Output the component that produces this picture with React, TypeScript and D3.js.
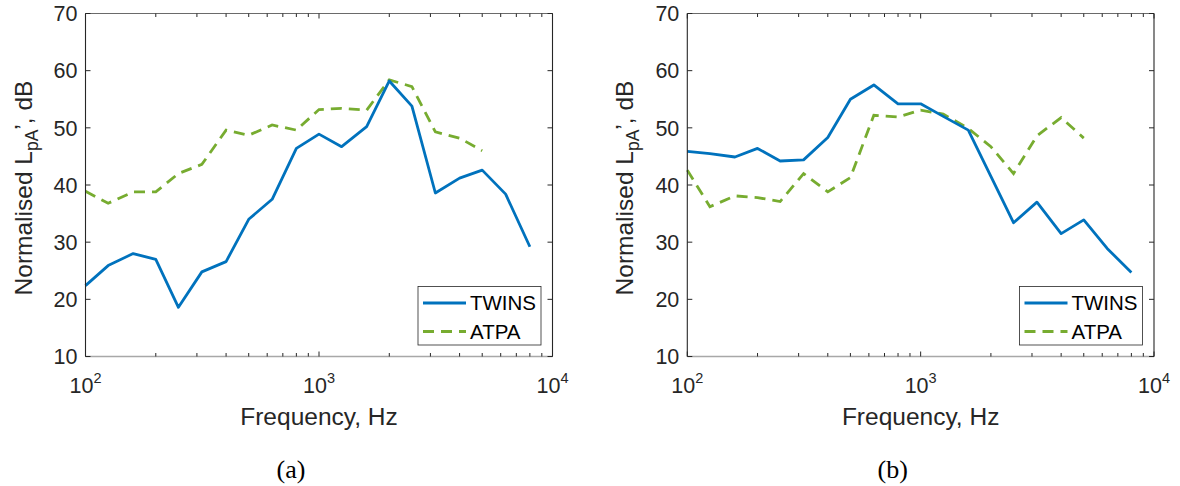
import React from "react";
import * as d3 from "d3";

const freqs = [100, 125, 160, 200, 250, 315, 400, 500, 630, 800, 1000, 1250, 1600, 2000, 2500, 3150, 4000, 5000, 6300, 8000];
const twinsA = [22.4, 25.9, 28.0, 27.0, 18.6, 24.8, 26.6, 34.0, 37.5, 46.4, 48.9, 46.7, 50.2, 58.2, 53.8, 38.6, 41.2, 42.6, 38.4, 29.2];
const atpaA = [38.9, 36.8, 38.8, 38.8, 42.0, 43.6, 49.6, 48.7, 50.5, 49.6, 53.2, 53.4, 53.1, 58.4, 57.2, 49.3, 48.2, 46.0];
const twinsB = [45.9, 45.5, 44.9, 46.4, 44.2, 44.4, 48.3, 55.0, 57.5, 54.2, 54.2, 52.0, 49.6, 41.5, 33.4, 37.0, 31.5, 33.9, 28.9, 24.7];
const atpaB = [42.6, 36.2, 38.1, 37.8, 37.1, 42.0, 38.8, 41.3, 52.2, 51.9, 53.1, 52.4, 49.9, 46.7, 42.0, 48.6, 51.8, 48.2];
const yTicks = [10, 20, 30, 40, 50, 60, 70];
const xTickExps = [2, 3, 4];
const seriesNames = ["TWINS", "ATPA"];
const captions = ["(a)", "(b)"];
const yLabelMain = "Normalised L";
const yLabelSub = "pA";
const yLabelTail = "\u2019, dB";
const xLabel = "Frequency, Hz";

const BLUE = "#0072BD";
const GREEN = "#77AC30";
const AX = "#262626";
const FONT = "'Liberation Sans', Arial, Helvetica, sans-serif";

type PanelProps = { left: number; right: number; twins: number[]; atpa: number[]; caption: string };

function Panel({ left, right, twins, atpa, caption }: PanelProps) {
  const top = 13.5;
  const bottom = 356.5;
  const x = d3.scaleLog().domain([100, 10000]).range([left, right]);
  const y = d3.scaleLinear().domain([10, 70]).range([bottom, top]);
  const line = d3
    .line<[number, number]>()
    .x((d) => x(d[0]))
    .y((d) => y(d[1]));
  const tw = twins.map((v, i) => [freqs[i], v] as [number, number]);
  const at = atpa.map((v, i) => [freqs[i], v] as [number, number]);
  const minor: number[] = [];
  for (let e = 2; e < 4; e++) for (let m = 2; m <= 9; m++) minor.push(m * Math.pow(10, e));
  const cx = (left + right) / 2;
  const legL = right - 134.5;
  const legR = right - 11.5;
  const legT = 286.5;
  const legB = 345;
  return (
    <g>
      {/* series */}
      <path d={line(at) || ""} fill="none" stroke={GREEN} strokeWidth={2.8} strokeDasharray="11,7" />
      <path d={line(tw) || ""} fill="none" stroke={BLUE} strokeWidth={2.8} strokeLinejoin="round" />
      {/* box */}
      <line x1={left} x2={right} y1={top} y2={top} stroke="#6a6a6a" strokeWidth={1} />
      <line x1={left} x2={right} y1={bottom} y2={bottom} stroke="#a8a8a8" strokeWidth={1.6} />
      <line x1={left} x2={left} y1={top} y2={bottom} stroke={AX} strokeWidth={1.1} />
      <line x1={right} x2={right} y1={top} y2={bottom} stroke={AX} strokeWidth={1.1} />
      {/* y ticks */}
      {yTicks.map((t) => (
        <g key={"y" + t}>
          <line x1={left} x2={left + 5} y1={y(t)} y2={y(t)} stroke={AX} strokeWidth={1} />
          <line x1={right} x2={right - 5} y1={y(t)} y2={y(t)} stroke={AX} strokeWidth={1} />
          <text x={left - 8} y={y(t)} dy="0.36em" textAnchor="end" fontFamily={FONT} fontSize={21.5} fill={AX}>
            {t}
          </text>
        </g>
      ))}
      {/* x ticks */}
      {xTickExps.map((e) => {
        const xv = x(Math.pow(10, e));
        return (
          <g key={"x" + e}>
            <line x1={xv} x2={xv} y1={bottom} y2={bottom - 5} stroke={AX} strokeWidth={1} />
            <line x1={xv} x2={xv} y1={top} y2={top + 5} stroke={AX} strokeWidth={1} />
            <text x={xv} y={393} textAnchor="middle" fontFamily={FONT} fontSize={21.5} fill={AX}>
              10
              <tspan dy={-10} fontSize={14.5}>
                {e}
              </tspan>
            </text>
          </g>
        );
      })}
      {minor.map((m) => (
        <g key={"m" + m}>
          <line x1={x(m)} x2={x(m)} y1={bottom} y2={bottom - 3.5} stroke={AX} strokeWidth={1} />
          <line x1={x(m)} x2={x(m)} y1={top} y2={top + 3.5} stroke={AX} strokeWidth={1} />
        </g>
      ))}
      {/* axis labels */}
      <text x={cx} y={425} textAnchor="middle" fontFamily={FONT} fontSize={24.5} fill={AX}>
        {xLabel}
      </text>
      <text
        transform={`translate(${left - 54},${188}) rotate(-90)`}
        textAnchor="middle"
        fontFamily={FONT}
        fontSize={24.5}
        fill={AX}
      >
        {yLabelMain}
        <tspan dy={6} fontSize={17.5}>
          {yLabelSub}
        </tspan>
        <tspan dy={-6}>{yLabelTail}</tspan>
      </text>
      {/* legend */}
      <rect x={legL} y={legT} width={legR - legL} height={legB - legT} fill="#fff" stroke={AX} strokeWidth={0.8} />
      <line x1={legL + 5} x2={legL + 48} y1={303} y2={303} stroke={BLUE} strokeWidth={2.8} />
      <line x1={legL + 5} x2={legL + 48} y1={331.5} y2={331.5} stroke={GREEN} strokeWidth={2.8} strokeDasharray="11,7" />
      <text x={legL + 52} y={303} dy="0.36em" fontFamily={FONT} fontSize={20.5} fill="#000">
        {seriesNames[0]}
      </text>
      <text x={legL + 52} y={331.5} dy="0.36em" fontFamily={FONT} fontSize={20.5} fill="#000">
        {seriesNames[1]}
      </text>
      {/* caption */}
      <text x={cx - 28} y={478} textAnchor="middle" fontFamily="'Liberation Serif', 'Times New Roman', serif" fontSize={26} fill="#000">
        {caption}
      </text>
    </g>
  );
}

export default function App() {
  return (
    <svg width={1180} height={486} style={{ position: "absolute", left: 0, top: 0, background: "#fff" }}>
      <rect x={0} y={0} width={1180} height={486} fill="#fff" />
      <Panel left={85.5} right={552.5} twins={twinsA} atpa={atpaA} caption={captions[0]} />
      <Panel left={687.3} right={1154} twins={twinsB} atpa={atpaB} caption={captions[1]} />
    </svg>
  );
}
